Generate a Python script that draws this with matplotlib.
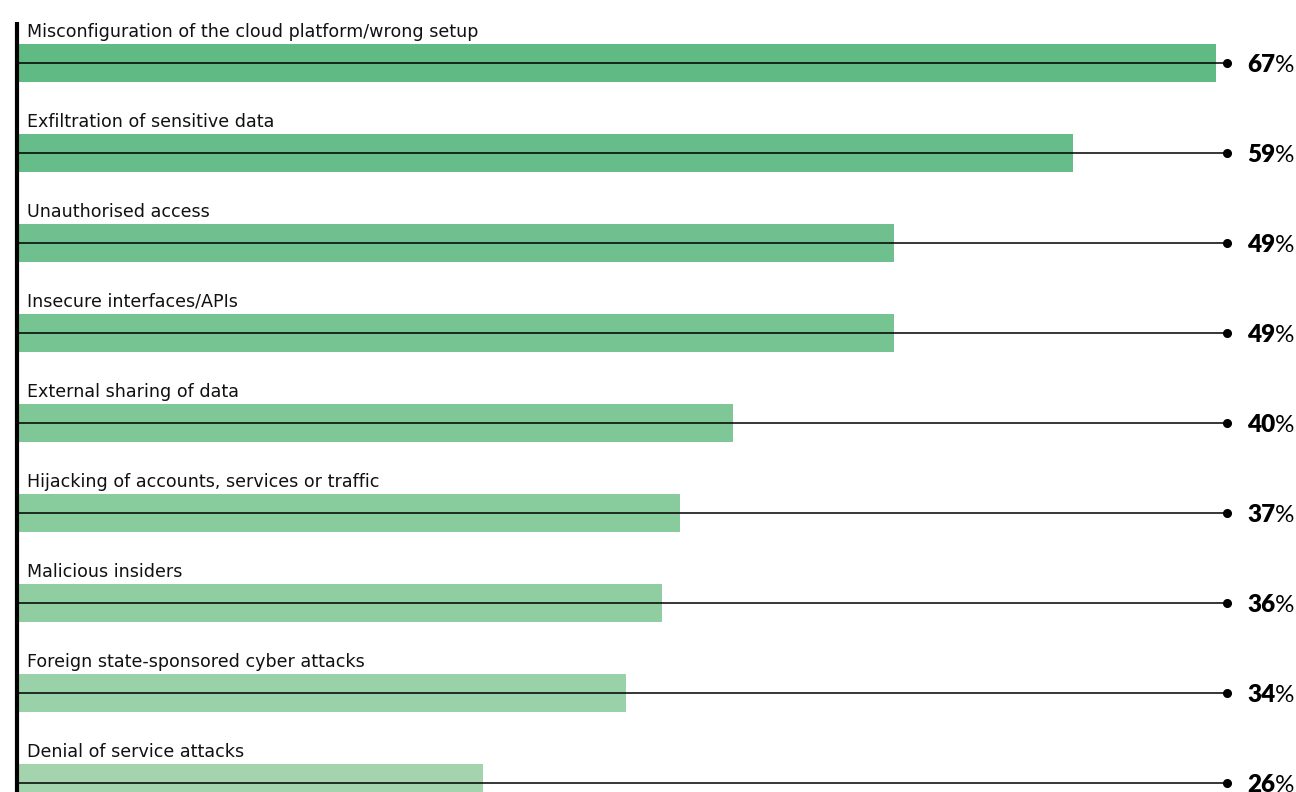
import matplotlib.pyplot as plt

categories = [
    "Misconfiguration of the cloud platform/wrong setup",
    "Exfiltration of sensitive data",
    "Unauthorised access",
    "Insecure interfaces/APIs",
    "External sharing of data",
    "Hijacking of accounts, services or traffic",
    "Malicious insiders",
    "Foreign state-sponsored cyber attacks",
    "Denial of service attacks",
]
values = [67, 59, 49, 49, 40, 37, 36, 34, 26]

bar_colors = ["#5fba84", "#66bd89", "#6fc08e", "#77c493", "#80c798",
              "#88cb9d", "#90cea2", "#99d1a8", "#a4d4ae"]

plt.rcParams["font.family"] = ["DejaVu Sans"]

fig = plt.figure(figsize=(12.96, 7.92), dpi=100)
ax = fig.add_axes([0, 0, 1, 1])

px = 17.88  # pixels per percentage point
ax.set_xlim(-18 / px, (1296 - 18) / px)
ax.set_ylim(8.1, -0.7)
ax.axis("off")

end_x = (1227 - 18) / px
for i, (cat, val) in enumerate(zip(categories, values)):
    ax.barh(i, val, height=0.422, left=0, color=bar_colors[i], zorder=1)
    ax.plot([0, end_x], [i, i], color="black", lw=1.1, zorder=2)
    ax.plot(end_x, i, "o", color="black", ms=5.5, zorder=3)
    ax.text(0.5, i - 0.29, cat, fontsize=12.6, va="baseline", ha="left",
            color="#111111")
    t = ax.text((1247 - 18) / px, i + 0.097, str(val), fontsize=17.5,
                fontweight="heavy", va="baseline", ha="left", color="black",
                family="Lato")
    ax.annotate("%", xy=(1, 0), xycoords=t, fontsize=17.5, va="bottom",
                ha="left", color="black", family="Lato")

ax.plot([-1.5 / px, -1.5 / px], [-0.455, 8.1], color="black", lw=3,
        solid_capstyle="butt", zorder=4)

fig.savefig("out.png", dpi=100)
